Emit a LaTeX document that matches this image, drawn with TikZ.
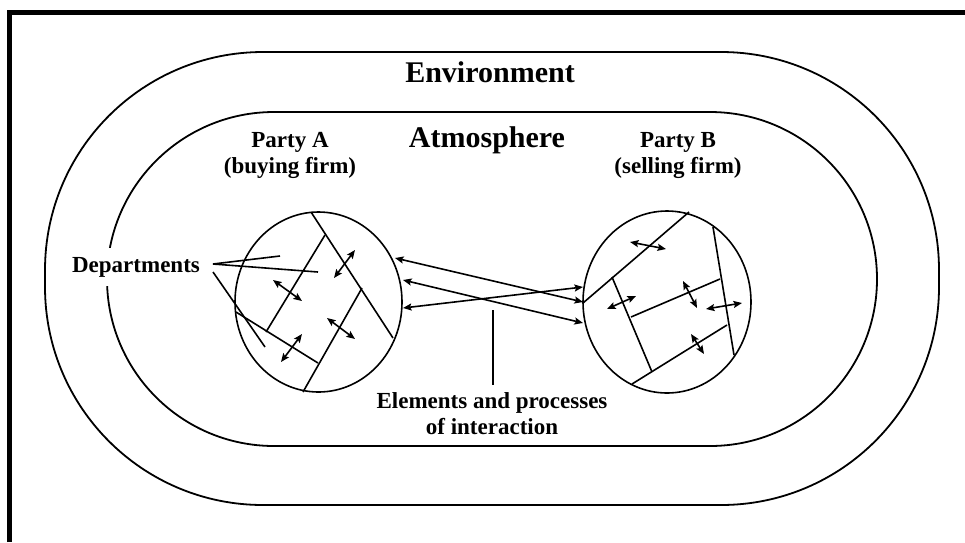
\documentclass[tikz,border=0pt]{standalone}
\usepackage{fontspec}
\setmainfont{Liberation Serif}
\usetikzlibrary{arrows.meta, shapes.geometric}

\begin{document}
\begin{tikzpicture}[x=1pt, y=-1pt, line width=1.6pt,
  >={Stealth[length=8.5pt,width=7pt,inset=1.5pt]},
  lbl/.style={font=\fontsize{23}{26}\selectfont\bfseries, align=center, inner sep=0pt},
  title/.style={font=\fontsize{30}{34}\selectfont\bfseries, inner sep=0pt},
  firm/.style={draw, ellipse, inner sep=0pt},
  link/.style={<->}]
\useasboundingbox (0,0) rectangle (965,542);

% frame, top and left only
\draw[line width=5pt] (9.7,542) -- (9.7,12.5) -- (965,12.5);

% environment and atmosphere
\node[draw, line width=1.8pt, rounded corners=218pt, minimum width=894pt, minimum height=453pt] (env) at (492,278.5) {};
\node[draw, line width=1.8pt, rounded corners=167pt, minimum width=770pt, minimum height=334pt] (atmo) at (492,279) {};

\node[title, anchor=base] (envlbl) at (490,82) {Environment};
\node[title, anchor=base] (atmolbl) at (487,147) {Atmosphere};
\node[lbl, anchor=north] (partyAlbl) at (290,131.5) {Party A\\(buying firm)};
\node[lbl, anchor=north] (partyBlbl) at (678,131.5) {Party B\\(selling firm)};

% the two firms
\node[firm, minimum width=167pt, minimum height=180pt] (partyA) at (318.5,302) {};
\node[firm, minimum width=168pt, minimum height=182pt] (partyB) at (667,302) {};

% departments of party A
\draw (311,212) -- (393,338);
\draw (325,235) -- (266,332);
\draw (236,312) -- (318,363);
\draw (362,288) -- (303,392);

% departments of party B
\draw (583,303) -- (689,212);
\draw (612,277) -- (652,372);
\draw (631,317) -- (720,279);
\draw (632,384) -- (727,325);
\draw (713,227) -- (734,355);

% arrows inside A
\coordinate (a1) at (355,250); \coordinate (a2) at (334,278);
\coordinate (a3) at (273,280); \coordinate (a4) at (302,301);
\coordinate (a5) at (327,318); \coordinate (a6) at (355,339);
\coordinate (a7) at (302,334); \coordinate (a8) at (281,362);
\draw[link] (a1) -- (a2);
\draw[link] (a3) -- (a4);
\draw[link] (a5) -- (a6);
\draw[link] (a7) -- (a8);

% arrows inside B
\coordinate (b1) at (630,242); \coordinate (b2) at (666,249);
\coordinate (b3) at (607,309); \coordinate (b4) at (636,296);
\coordinate (b5) at (683,281); \coordinate (b6) at (697,308);
\coordinate (b7) at (706,309); \coordinate (b8) at (742,303);
\coordinate (b9) at (691,334); \coordinate (b10) at (704,354);
\draw[link] (b1) -- (b2);
\draw[link] (b3) -- (b4);
\draw[link] (b5) -- (b6);
\draw[link] (b7) -- (b8);
\draw[link] (b9) -- (b10);

% interaction between the firms
\coordinate (la) at (395,258); \coordinate (ra) at (583,302);
\coordinate (lb) at (403,280); \coordinate (rb) at (583,323);
\coordinate (lc) at (403,308); \coordinate (rc) at (583,287);
\draw[link] (la) -- (ra);
\draw[link] (lb) -- (rb);
\draw[link] (lc) -- (rc);

\node[lbl, anchor=north] (elem) at (492,391.5) {Elements and processes\\of interaction};
\coordinate (elemtop) at (493,310);
\draw (elemtop) -- (elemtop |- 0,385);

% departments label
\node[lbl, fill=white, inner xsep=3pt, inner ysep=9pt, anchor=base] (depts) at (136,272) {Departments};
\coordinate (d1) at (213,264); \coordinate (d2) at (213,272);
\coordinate (dA) at (280,256); \coordinate (dB) at (318,272); \coordinate (dC) at (265,347);
\draw (d1) -- (dA);
\draw (d1) -- (dB);
\draw (d2) -- (dC);

\end{tikzpicture}
\end{document}
